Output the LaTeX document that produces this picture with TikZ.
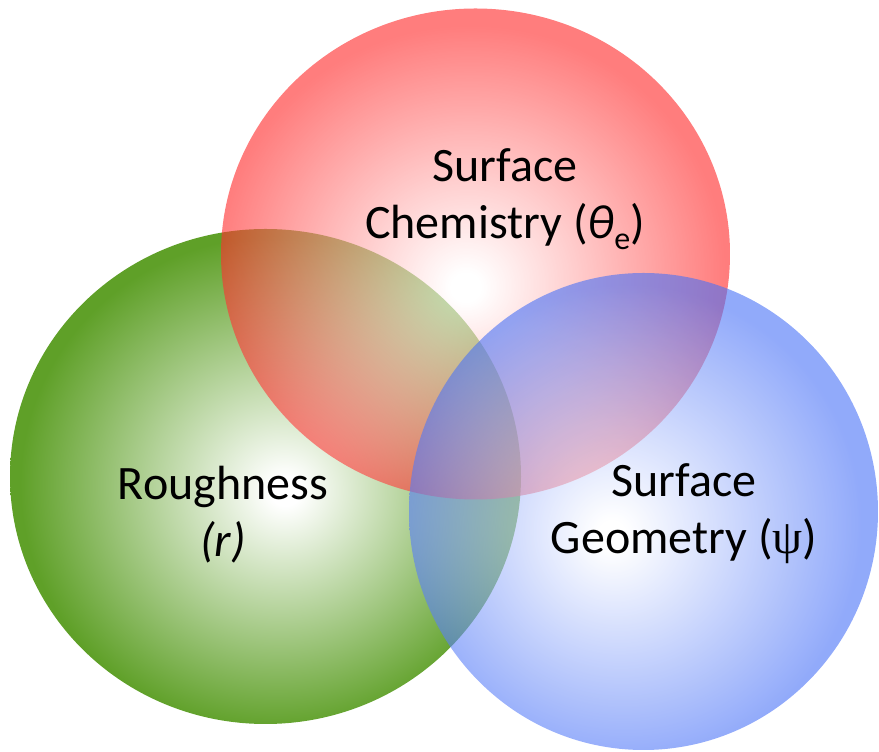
\documentclass[tikz,border=0pt]{standalone}
\usepackage{fontspec}
\setmainfont{Carlito}
\newfontfamily\greekserif{Liberation Serif}
\usepackage{tikz}
\usetikzlibrary{shapes.geometric}
\definecolor{rghgreen}{RGB}{95,160,40}
\definecolor{chemred}{RGB}{255,45,45}
\definecolor{geoblue}{RGB}{72,113,247}
\pgfdeclareradialshading{roughshade}{\pgfpoint{2bp}{-1.5bp}}{color(0bp)=(white); color(1.5bp)=(white); color(25bp)=(rghgreen); color(50bp)=(rghgreen)}
\pgfdeclareradialshading{chemshade}{\pgfpoint{-1bp}{-3.5bp}}{color(0bp)=(white); color(1.5bp)=(white); color(25bp)=(chemred); color(50bp)=(chemred)}
\pgfdeclareradialshading{geomshade}{\pgfpoint{-3.5bp}{-2.5bp}}{color(0bp)=(white); color(1.5bp)=(white); color(25bp)=(geoblue); color(50bp)=(geoblue)}
\tikzset{
  venn/.style={ellipse, inner sep=0pt, outer sep=0pt, shade},
  vennlabel/.style={align=center, text=black, inner sep=0pt,
    font=\fontsize{48}{57}\selectfont}
}
\newcommand{\lowsub}[1]{\raisebox{-0.22em}{\fontsize{32}{32}\selectfont #1}}

\begin{document}
\begin{tikzpicture}[x=1pt, y=1pt]
  \useasboundingbox (0,0) rectangle (879,752);

  % the three sets
  \node[venn, shading=roughshade, minimum width=511pt, minimum height=495pt] (rough) at (265.5,275.5) {};
  \node[venn, shading=chemshade, opacity=0.62, minimum width=509pt, minimum height=491pt] (chem) at (475.5,498) {};
  \node[venn, shading=geomshade, opacity=0.6, minimum width=469pt, minimum height=477pt] (geom) at (643.5,240.5) {};

  % labels
  \node[vennlabel] (chemtxt) at (505,553) {Surface\\Chemistry (\textit{θ}\lowsub{e})};
  \node[vennlabel] (roughtxt) at (223,237) {Roughness\\\textit{(r)}};
  \node[vennlabel] (geomtxt) at (684,238) {Surface\\Geometry ({\greekserif ψ})};
\end{tikzpicture}
\end{document}
